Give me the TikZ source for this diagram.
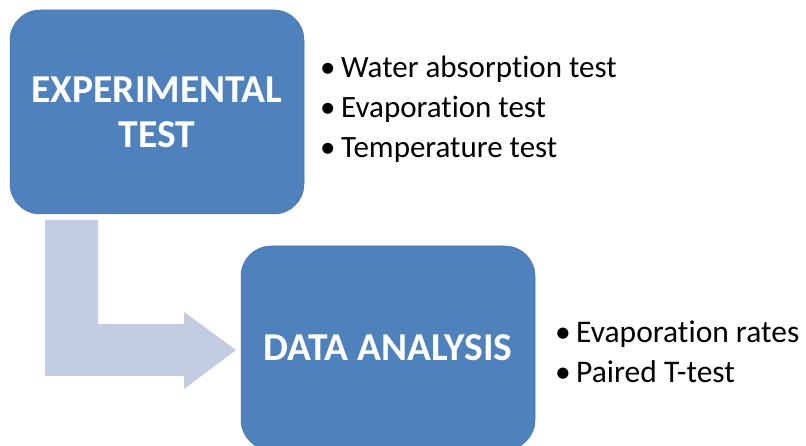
\documentclass[tikz,border=0pt]{standalone}
\usepackage{fontspec}
\setmainfont{Carlito}[Ligatures={NoCommon}]
\definecolor{boxblue}{HTML}{4F81BD}
\definecolor{arrowblue}{HTML}{C3CDE1}
\tikzset{
  stage/.style={draw=boxblue!90!black, line width=0.5pt, fill=boxblue,
    rounded corners=30pt, minimum width=294pt, minimum height=204pt,
    inner sep=0pt, align=center, text=white, font=\bfseries\fontsize{39.5}{45}\selectfont},
  item/.style={anchor=base west, inner sep=0pt, font=\fontsize{31}{36}\selectfont},
  item2/.style={item, font=\fontsize{31.5}{36}\selectfont},
  flow/.style={fill=arrowblue, draw=none}
}
\newcommand{\bul}[1]{\makebox[21pt][l]{\textbullet}#1}
\begin{document}
\begin{tikzpicture}[x=1pt,y=-1pt]
  \useasboundingbox (0,0) rectangle (806,446);
  % bent arrow from the first stage to the second
  \coordinate (a1) at (45,220);
  \coordinate (a2) at (98,220);
  \fill[flow] (a1) -- (a2) -- (98,324) -- (184,324) -- (184,312) -- (236,350)
    -- (184,389) -- (184,376) -- (45,376) -- cycle;
  % stages
  \node[stage] (exp) at (157,112) {EXPERIMENTAL\\TEST};
  \node[stage] (data) at (388,348) {DATA ANALYSIS};
  % bullet lists
  \node[item] (w1) at (320,78) {\bul{Water absorption test}};
  \node[item] (w2) at (320,118) {\bul{Evaporation test}};
  \node[item] (w3) at (320,158) {\bul{Temperature test}};
  \node[item2] (d1) at (555,342) {\bul{Evaporation rates}};
  \node[item2] (d2) at (555,382) {\bul{Paired T-test}};
\end{tikzpicture}
\end{document}
